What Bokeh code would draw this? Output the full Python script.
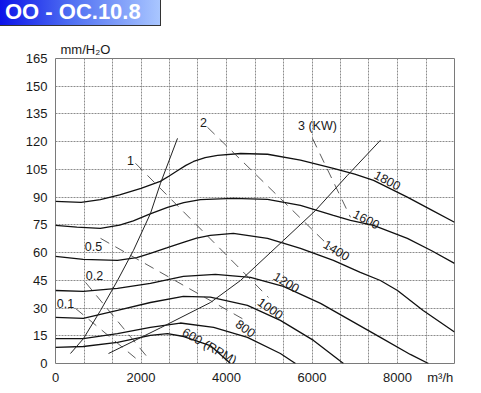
from bokeh.plotting import figure
from bokeh.models import Div, FixedTicker, Range1d, ColumnDataSource
from bokeh.layouts import column
from bokeh.core.properties import value
from bokeh.embed import file_html
from bokeh.resources import INLINE

# ---- data (flow m3/h, pressure mm H2O) ----
rpm1800_x = [0, 600, 1050, 1500, 2000, 2450, 2650, 2850, 3050, 3230, 3500, 3790, 4330, 4960, 5730, 6500, 7000, 7440, 8230, 8800, 9333]
rpm1800_y = [87.7, 87.2, 88.6, 91.2, 94.8, 98.5, 101.3, 104.3, 107.2, 109.3, 111.4, 112.6, 113.6, 113.2, 110.0, 105.6, 102.5, 99.1, 90.0, 83.0, 76.4]
rpm1600_x = [0, 500, 1050, 1500, 1820, 2200, 2620, 3000, 3390, 4160, 4960, 5730, 6500, 6900, 7440, 8230, 8800, 9333]
rpm1600_y = [74.7, 73.8, 73.1, 74.8, 77.2, 80.8, 84.5, 87.0, 88.6, 89.3, 88.8, 85.6, 80.1, 77.4, 74.7, 67.7, 61.0, 54.2]
rpm1400_x = [0, 650, 1450, 1900, 2220, 2600, 2990, 3300, 3620, 4160, 4960, 5730, 6500, 7130, 7600, 8000, 8600, 9333]
rpm1400_y = [58.0, 56.3, 55.8, 57.3, 59.6, 62.5, 65.5, 67.8, 69.3, 70.4, 67.7, 62.3, 55.8, 49.3, 44.9, 39.5, 28.7, 17.0]
rpm1200_x = [0, 650, 1450, 2220, 2990, 3740, 4560, 5330, 6200, 6900, 7600, 8300, 8724]
rpm1200_y = [39.5, 39.0, 40.6, 43.3, 47.1, 48.2, 46.6, 41.7, 32.5, 23.3, 14.1, 4.9, 0.0]
rpm1000_x = [0, 650, 1450, 2220, 2990, 3620, 4490, 5260, 6035, 6736]
rpm1000_y = [24.9, 24.4, 28.7, 33.0, 36.3, 35.9, 31.4, 23.3, 12.5, 0.0]
rpm800_x = [0, 650, 1450, 2220, 2920, 3700, 4490, 5260, 5614]
rpm800_y = [13.5, 13.5, 16.2, 19.5, 21.9, 19.5, 14.1, 5.4, 0.0]
rpm600_x = [0, 650, 1450, 2220, 2620, 3000, 3620, 4093]
rpm600_y = [8.7, 9.2, 11.4, 15.2, 16.2, 14.6, 9.7, 0.0]

limit_left_x = [350, 655, 1053, 1450, 1824, 2222, 2456, 2854]
limit_left_y = [5.4, 13.5, 28.7, 44.9, 61.2, 81.2, 97.5, 121.8]
limit_right_x = [1240, 2456, 3625, 4327, 5333, 6082, 6830, 7602]
limit_right_y = [5.4, 19.3, 33.0, 44.9, 66.6, 82.8, 101.8, 120.8]

# power iso-lines (kW), straight dashed segments
kw_names = ["3", "2", "1", "0.5", "0.2", "0.1"]
kw_x0 = [6011, 3555, 1871, 1053, 702, 468]
kw_y0 = [121.8, 127.8, 108.3, 67.7, 43.9, 29.8]
kw_x1 = [6900, 6432, 4982, 4444, 2175, 1941]
kw_y1 = [79.1, 62.8, 35.7, 23.3, 2.7, 1.6]

# curve labels
lab_text = ["1800", "1600", "1400", "1200", "1000", "800", "600 (RPM)",
            "1", "2", "3 (KW)", "0.5", "0.2", "0.1"]
lab_x = [7766, 7274, 6573, 5403, 5029, 4444, 3602, 1754, 3462, 6128, 889, 912, 234]
lab_y = [99.1, 78.0, 61.2, 43.9, 29.8, 19.0, 9.2, 109.9, 130.5, 128.3, 63.4, 47.7, 32.5]
lab_deg = [-28, -27, -31, -31, -35, -36, -30, 0, 0, 0, 0, 0, 0]

x_ticks = [0, 2000, 4000, 6000, 8000]
x_unit_pos = 9000
y_ticks = [0, 15, 30, 45, 60, 75, 90, 105, 120, 135, 150, 165]
x_grid = [0, 666.7, 1333.3, 2000, 2666.7, 3333.3, 4000, 4666.7, 5333.3, 6000,
          6666.7, 7333.3, 8000, 8666.7, 9333.3]

FONT = "Liberation Sans"

title = Div(text='<span style="display:inline-block; padding-left:7px">OO - OC.10.8</span>',
            width=163, height=28,
            styles={"background": "linear-gradient(to right, #0a10e8 0%, #4f6ff2 45%, #a9c6ff 100%)",
                    "color": "white", "font-family": FONT, "font-weight": "bold",
                    "font-size": "22px", "line-height": "28px",
                    "box-sizing": "border-box", "border-right": "1px solid #333",
                    "border-bottom": "1px solid #333",
                    "transform": "translate(-7px, -7px)"})

p = figure(width=465, height=349, output_backend="svg", toolbar_location=None,
           x_range=Range1d(0, 9333.3), y_range=Range1d(0, 165),
           min_border_left=55, min_border_right=11, min_border_top=20, min_border_bottom=20,
           title="mm/H₂O")
p.title.align = "left"
p.title.offset = 5
p.title.text_font = FONT
p.title.text_font_size = "13px"
p.title.text_font_style = "normal"
p.title.text_color = "#1a1a1a"
p.title.standoff = 3

p.background_fill_color = "white"
p.border_fill_color = "white"
p.outline_line_color = "#7a7a7a"
p.outline_line_width = 1

p.xaxis.ticker = FixedTicker(ticks=x_ticks + [x_unit_pos])
p.xaxis.major_label_overrides = {x_unit_pos: "m³/h"}
p.yaxis.ticker = FixedTicker(ticks=y_ticks)
p.xgrid.ticker = FixedTicker(ticks=x_grid)
p.ygrid.ticker = FixedTicker(ticks=y_ticks)
for g in (p.xgrid, p.ygrid):
    g.grid_line_color = "#8c8c8c"
    g.grid_line_dash = "2 1"
    g.grid_line_width = 1
for ax in (p.xaxis, p.yaxis):
    ax.axis_line_color = None
    ax.major_tick_line_color = None
    ax.minor_tick_line_color = None
    ax.major_tick_out = 0
    ax.major_tick_in = 0
    ax.minor_tick_out = 0
    ax.minor_tick_in = 0
    ax.major_label_text_font = FONT
    ax.major_label_text_font_size = "13px"
    ax.major_label_text_color = "#1a1a1a"
p.xaxis.major_label_standoff = 6
p.yaxis.major_label_standoff = 8

curves = [(rpm1800_x, rpm1800_y), (rpm1600_x, rpm1600_y), (rpm1400_x, rpm1400_y),
          (rpm1200_x, rpm1200_y), (rpm1000_x, rpm1000_y), (rpm800_x, rpm800_y),
          (rpm600_x, rpm600_y)]
for cx, cy in curves:
    p.line(cx, cy, line_color="#111111", line_width=1.3)

p.line(limit_left_x, limit_left_y, line_color="#222222", line_width=1)
p.line(limit_right_x, limit_right_y, line_color="#222222", line_width=1)

p.segment(x0=kw_x0, y0=kw_y0, x1=kw_x1, y1=kw_y1, line_color="#333333",
          line_width=0.8, line_dash="10 7")

src = ColumnDataSource(dict(x=lab_x, y=lab_y, text=lab_text,
                            angle=[d * 3.14159265 / 180 for d in lab_deg]))
p.text(x="x", y="y", text="text", angle="angle", source=src,
       text_font=value(FONT), text_font_size="12.5px", text_color="#1a1a1a",
       text_align="center", text_baseline="middle")

layout = column(title, p, spacing=0)
open("out.html", "w").write(file_html(layout, INLINE))
